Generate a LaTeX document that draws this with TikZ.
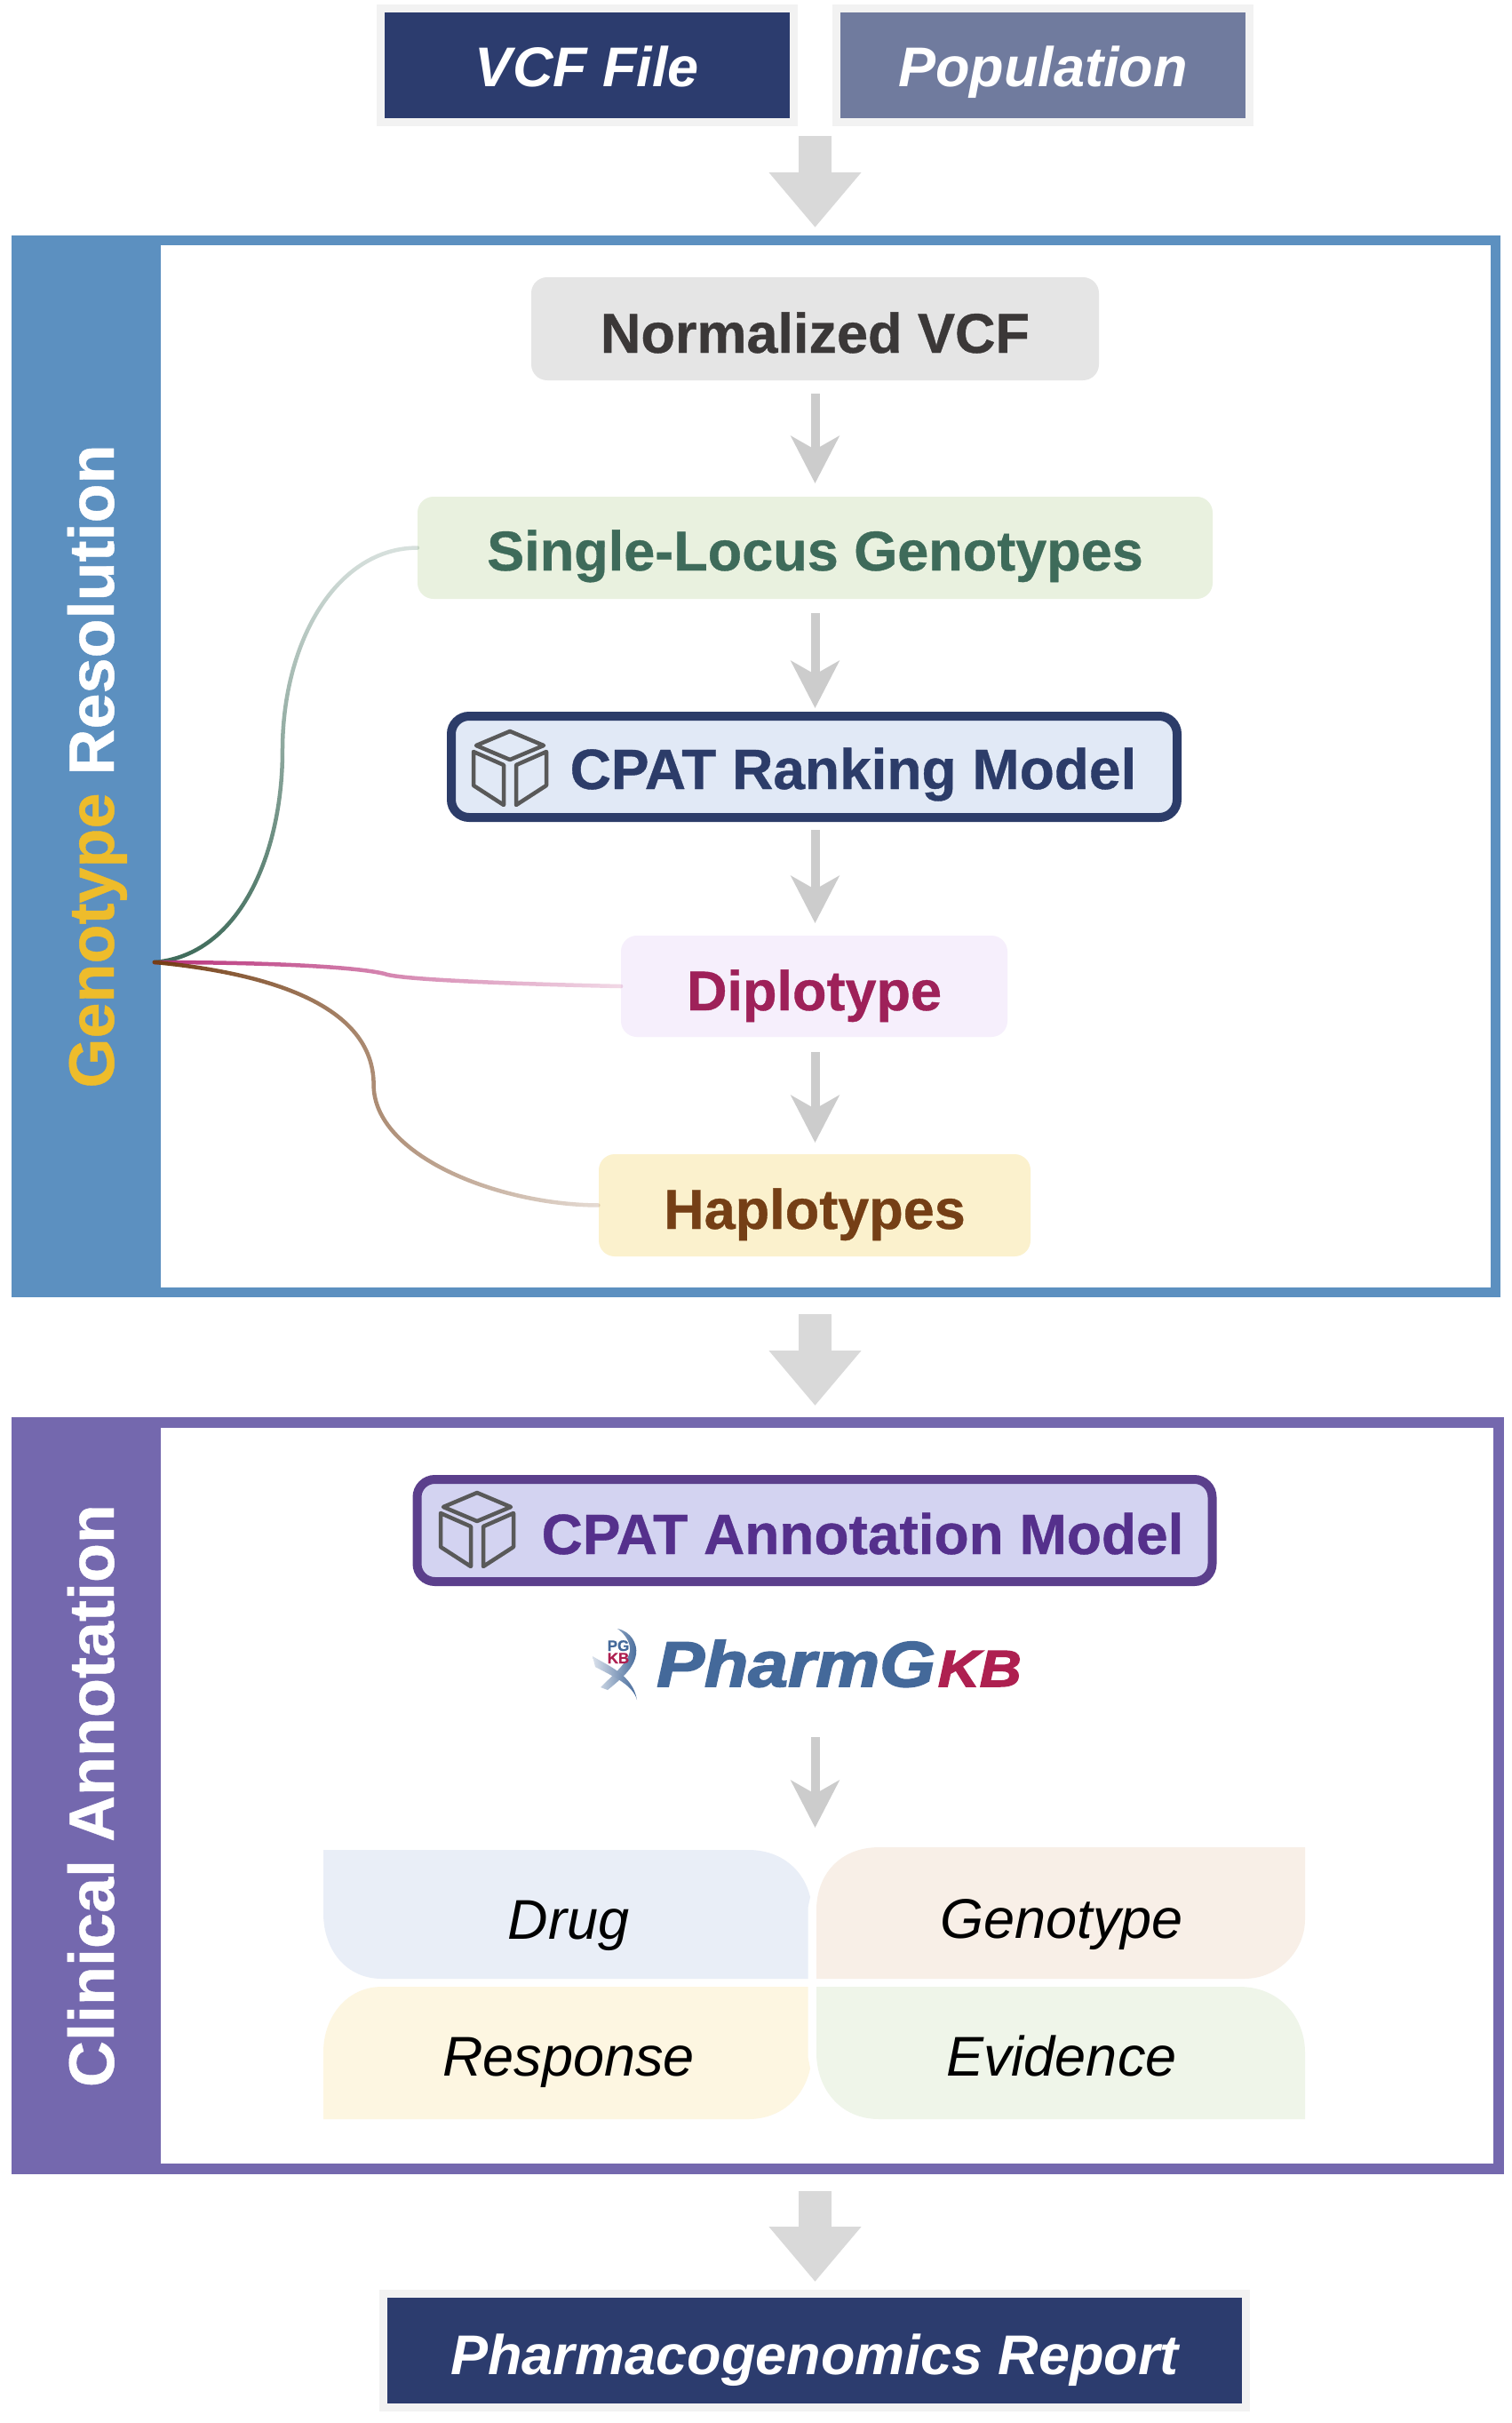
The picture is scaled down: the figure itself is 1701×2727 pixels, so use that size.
\documentclass[tikz,border=0pt]{standalone}
\usepackage{fontspec}
\setmainfont[BoldFeatures={FakeBold=0.6}]{Liberation Sans}
\newfontfamily\pharmfont[FakeStretch=1.12,FakeBold=2.5]{Liberation Sans}
\usetikzlibrary{arrows.meta,fadings}
\definecolor{navy}{HTML}{2C3C6E}
\definecolor{popblue}{HTML}{707B9E}
\definecolor{framegray}{HTML}{F2F2F2}
\definecolor{bluepanel}{HTML}{5C90C0}
\definecolor{purplepanel}{HTML}{7468AE}
\definecolor{goldword}{HTML}{EEBC2B}
\definecolor{normfill}{HTML}{E5E5E5}
\definecolor{normtext}{HTML}{3B3838}
\definecolor{greenfill}{HTML}{E9F1DF}
\definecolor{greentext}{HTML}{3E6B5A}
\definecolor{rankfill}{HTML}{E1E9F6}
\definecolor{ranktext}{HTML}{2C3C69}
\definecolor{dipfill}{HTML}{F6EFFC}
\definecolor{diptext}{HTML}{9E2159}
\definecolor{hapfill}{HTML}{FBF1CD}
\definecolor{haptext}{HTML}{753F16}
\definecolor{annfill}{HTML}{D3D3F1}
\definecolor{annedge}{HTML}{5B3F8C}
\definecolor{anntext}{HTML}{55308C}
\definecolor{pgblue}{HTML}{44699A}
\definecolor{pgred}{HTML}{AE2050}
\definecolor{iconline}{HTML}{595959}
\definecolor{thickarrowc}{HTML}{D9D9D9}
\definecolor{thinarrowc}{HTML}{CCCCCC}
\definecolor{curvegreen}{HTML}{3E6B5A}
\definecolor{curvepink}{HTML}{B8327A}
\definecolor{curvebrown}{HTML}{753F16}
\definecolor{petala}{HTML}{E9EEF7}
\definecolor{petalb}{HTML}{F8EFE7}
\definecolor{petalc}{HTML}{FDF6E1}
\definecolor{petald}{HTML}{EFF5E9}
\tikzfading[name=fadeUp, bottom color=transparent!0, top color=transparent!80]
\tikzfading[name=fadeRight, left color=transparent!0, right color=transparent!82]
\tikzset{
  allnodes/.style={rectangle,inner sep=0pt,outer sep=0pt,text depth=0pt},
  framed/.style={allnodes,draw=framegray,line width=9pt,text=white,font=\fontsize{63}{70}\selectfont\bfseries\itshape},
  softbox/.style={allnodes,rounded corners=18pt,font=\fontsize{63}{70}\selectfont\bfseries},
  modelbox/.style={allnodes,rounded corners=20pt,line width=10pt,font=\fontsize{64}{70}\selectfont\bfseries},
  sidebar/.style={allnodes,rotate=90,minimum height=168pt,text height=62pt,text=white,font=\fontsize{72}{78}\selectfont\bfseries},
  panel/.style={allnodes,fill=white},
  thickarrow/.style={draw=thickarrowc,line width=37pt,-{Triangle[length=62pt,width=100pt,color=thickarrowc]}},
  thinarrow/.style={draw=thinarrowc,line width=10pt,-{Stealth[length=53pt,width=54pt,inset=15pt,color=thinarrowc]}},
  curve/.style={line width=4.5pt,line cap=round},
  petaltext/.style={inner sep=0pt,anchor=base,font=\fontsize{63}{70}\selectfont\itshape},
  pics/cube/.style={code={
    \draw[iconline,line width=4.5pt,line join=round]
      (0,-42)--(38,-26)--(0,-10)--(-38,-26)--cycle
      (-41,-19)--(-7,-4)--(-7,41)--(-41,19)--cycle
      (41,-19)--(7,-4)--(7,41)--(41,19)--cycle;
  }}
}
\begin{document}
\begin{tikzpicture}[x=1pt,y=-1pt]
\useasboundingbox (0,0) rectangle (1701,2727);
% input boxes
\node[framed,fill=navy,minimum width=465pt,minimum height=128pt,text height=49pt] (vcf) at (661,73.5) {VCF File};
\node[framed,fill=popblue,minimum width=465pt,minimum height=128pt,text height=49pt] (pop) at (1174,73.5) {Population};
\coordinate (inputs) at (917.5,142);
% panels
\node[panel,draw=bluepanel,line width=11pt,minimum width=1665pt,minimum height=1184pt] (gpanel) at (851,862.5) {};
\node[sidebar,fill=bluepanel,minimum width=1195pt] (gside) at (97,862.5) {{\color{goldword}Genotype} Resolution};
\node[panel,draw=purplepanel,line width=12pt,minimum width=1668pt,minimum height=840pt] (cpanel) at (853,2021) {};
\node[sidebar,fill=purplepanel,minimum width=852pt] (cside) at (97,2021) {Clinical Annotation};
% genotype steps
\node[softbox,fill=normfill,text=normtext,minimum width=639pt,minimum height=116pt,text height=54pt] (norm) at (917.5,370) {Normalized VCF};
\node[softbox,fill=greenfill,text=greentext,minimum width=895pt,minimum height=115pt,text height=51pt] (single) at (917.5,616.5) {Single-Locus Genotypes};
\node[modelbox,draw=ranktext,fill=rankfill,text=ranktext,minimum width=817pt,minimum height=114pt,text height=50pt] (rank) at (916.5,863) {\hspace*{88pt}CPAT Ranking Model};
\pic at (574,865) {cube};
\node[softbox,fill=dipfill,text=diptext,minimum width=435pt,minimum height=114pt,text height=54pt] (dip) at (916.5,1110) {Diplotype};
\node[softbox,fill=hapfill,text=haptext,minimum width=486pt,minimum height=115pt,text height=53pt] (hap) at (917,1356.5) {Haplotypes};
% curves
\coordinate (hub) at (174,1083);
\coordinate (gmid) at (318,845);
\coordinate (pmid) at (433,1096);
\coordinate (bmid) at (421,1221);
\draw[curve,curvegreen,path fading=fadeUp] (hub) .. controls (270,1075) and (318,960) .. (gmid) .. controls (318,720) and (380,616.5) .. (single.west);
\draw[curve,curvepink,path fading=fadeRight] (hub) .. controls (300,1083) and (400,1088) .. (pmid) .. controls (450,1103) and (600,1108) .. (dip.west);
\draw[curve,curvebrown,path fading=fadeRight] (hub) .. controls (300,1095) and (421,1130) .. (bmid) .. controls (421,1300) and (560,1356) .. (hap.west);
% thin arrows
\draw[thinarrow,shorten <=15pt,shorten >=15pt] (norm.south) -- (single.north);
\draw[thinarrow,shorten <=16pt,shorten >=9pt] (single.south) -- (single.south |- rank.north);
\draw[thinarrow,shorten <=14pt,shorten >=14pt] (single.south |- rank.south) -- (single.south |- dip.north);
\draw[thinarrow,shorten <=17pt,shorten >=13pt] (single.south |- dip.south) -- (single.south |- hap.north);
% thick arrows
\draw[thickarrow,shorten <=11pt,shorten >=14.5pt] (inputs) -- (inputs |- gpanel.north);
\draw[thickarrow,shorten <=24.5pt,shorten >=19pt] (inputs |- gpanel.south) -- (inputs |- cpanel.north);
% annotation
\node[modelbox,draw=annedge,fill=annfill,text=anntext,minimum width=895pt,minimum height=115pt,text height=53pt] (ann) at (917,1722.5) {\hspace*{108pt}CPAT Annotation Model};
\pic at (537,1722) {cube};
% PharmGKB logo
\begin{scope}
\shade[left color=pgblue!30,right color=pgblue] (695,1833) .. controls (710,1836) and (718,1850) .. (716,1862) .. controls (714,1875) and (705,1885) .. (684,1902) -- (676,1899) .. controls (690,1885) and (708,1870) .. (709,1858) .. controls (710,1850) and (705,1840) .. (695,1833) -- cycle;
\fill[white] (664,1860) -- (694,1880) -- (716,1913) -- (706,1895) -- (680,1878) -- cycle;
\shade[left color=pgblue!20,right color=pgblue] (667,1864) .. controls (685,1875) and (712,1885) .. (717,1913) .. controls (712,1897) and (695,1889) .. (670,1876) -- cycle;
\end{scope}
\node[inner sep=0pt,anchor=base,text=pgblue,font=\fontsize{17}{17}\selectfont\bfseries] (pgmark) at (696,1858) {PG};
\node[inner sep=0pt,anchor=base,text=pgred,font=\fontsize{17}{17}\selectfont\bfseries] (kbmark) at (696,1872) {KB};
\node[inner sep=0pt,anchor=base west,font=\pharmfont\bfseries\itshape] (pharm) at (739,1898) {{\fontsize{72}{76}\selectfont\color{pgblue}PharmG}\kern3pt{\fontsize{58}{60}\selectfont\color{pgred}KB}};
\coordinate (pharmout) at (917.5,1955);
\coordinate (gridin) at (917.5,2057);
\draw[thinarrow] (pharmout) -- (gridin);
% petals
\fill[petala] (364,2082) -- (842,2082) .. controls (880,2082) and (905,2105) .. (912,2135) -- (909.5,2147) -- (909.5,2227) -- (430,2227) .. controls (390,2227) and (364,2195) .. (364,2153) -- cycle;
\fill[petalb] (919,2227) -- (919,2150) .. controls (919,2110) and (945,2079) .. (990,2079) -- (1469,2079) -- (1469,2160) .. controls (1469,2195) and (1440,2227) .. (1400,2227) -- cycle;
\fill[petalc] (909.5,2236) -- (430,2236) .. controls (390,2236) and (364,2270) .. (364,2310) -- (364,2385) -- (842,2385) .. controls (880,2385) and (905,2360) .. (912,2328) -- (909.5,2315) -- cycle;
\fill[petald] (919,2310) .. controls (919,2350) and (945,2385) .. (990,2385) -- (1469,2385) -- (1469,2310) .. controls (1469,2270) and (1440,2236) .. (1395,2236) -- (919,2236) -- cycle;
\node[petaltext] (drug) at (640,2182) {Drug};
\node[petaltext] (geno) at (1195,2181) {Genotype};
\node[petaltext] (resp) at (640,2336) {Response};
\node[petaltext] (evid) at (1195,2336) {Evidence};
% report
\node[framed,fill=navy,minimum width=971pt,minimum height=128pt,text height=53pt] (report) at (917,2645.5) {Pharmacogenomics Report};
\draw[thickarrow,shorten <=25pt,shorten >=13.5pt] (inputs |- cpanel.south) -- (inputs |- report.north);
\end{tikzpicture}
\end{document}
